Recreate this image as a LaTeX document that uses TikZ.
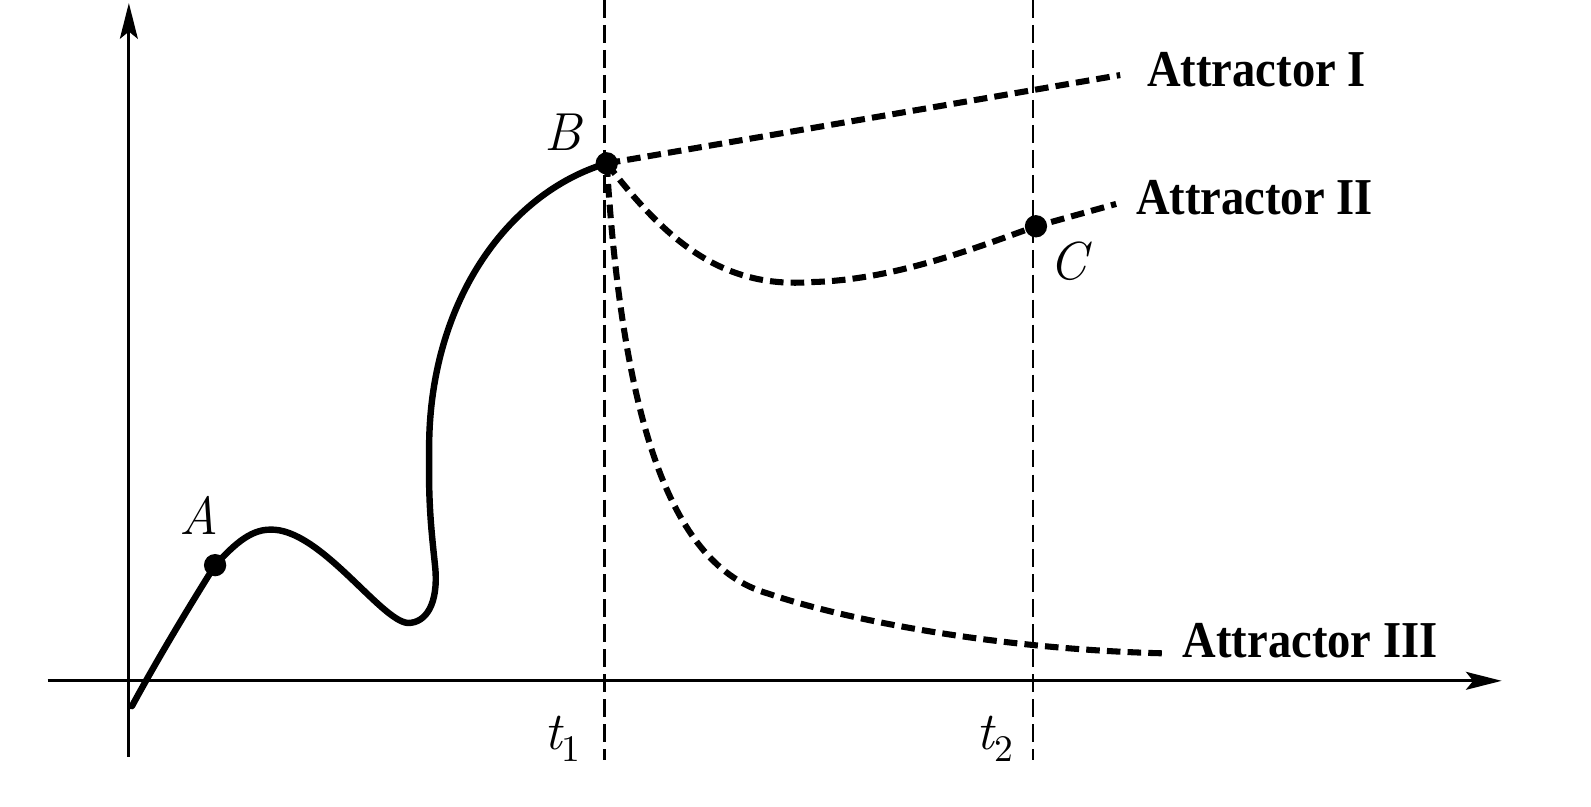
\documentclass[tikz,border=0pt]{standalone}
\usepackage{fontspec}
\newfontfamily\attrfont[FakeStretch=0.9]{Liberation Serif}
\usetikzlibrary{arrows.meta}
\newcommand{\subidx}[1]{\raisebox{-3.2pt}{\fontsize{10.5}{12}\selectfont\upshape #1}}
\begin{document}
\begin{tikzpicture}[x=0.01cm,y=-0.01cm,
  axis/.style={line width=0.9pt,-{Stealth[length=10pt,width=5pt,inset=2pt]}},
  guide/.style={line width=0.75pt,dash pattern=on 5pt off 2pt},
  traj/.style={line width=1.8pt,line join=round,line cap=round},
  attr/.style={line width=1.7pt,dash pattern=on 3.8pt off 2pt},
  lab/.style={font=\fontsize{15}{18}\selectfont\itshape,inner sep=0pt},
  attrtxt/.style={font=\attrfont\bfseries\fontsize{14.5}{17}\selectfont,inner sep=0pt}]
\useasboundingbox (0,0) rectangle (1568,795);
% key points
\coordinate (A) at (212,557);
\coordinate (B) at (598,161);
\coordinate (C) at (1021,223);
\coordinate (S) at (130,696);
\coordinate (Pk) at (266,522);
\coordinate (Mn) at (402,614);
\coordinate (R1) at (429,560);
\coordinate (R2) at (423,450);
% axes
\coordinate (ybot) at (127,746);
\coordinate (ytop) at (127,3);
\coordinate (xl) at (47,671);
\coordinate (xr) at (1480,671);
\draw[axis] (ybot) -- (ytop);
\draw[axis] (xl) -- (xr);
% guides
\coordinate (t1top) at (596,0);
\coordinate (t1bot) at (596,749);
\coordinate (t2top) at (1018,0);
\coordinate (t2bot) at (1018,749);
\draw[guide] (t1top) -- (t1bot);
\draw[guide] (t2top) -- (t2bot);
% trajectory
\draw[traj] (S) .. controls (155,650) and (185,600) .. (A)
  .. controls (228,540) and (245,522) .. (Pk)
  .. controls (315,520) and (375,612) .. (Mn)
  .. controls (420,614) and (432,595) .. (R1)
  .. controls (426,530) and (422,500) .. (R2)
  .. controls (420,300) and (500,190) .. (B);
% attractors
\coordinate (E1) at (1104,74);
\coordinate (E2) at (1100,201);
\coordinate (E3) at (1150,644);
\coordinate (M2) at (800,278);
\coordinate (P3) at (757,585);
\draw[attr] (B) -- (E1);
\draw[attr] (B) .. controls (655,235) and (710,285) .. (M2) .. controls (880,276) and (960,245) .. (C) -- (E2);
\draw[attr] (B) .. controls (615,440) and (670,560) .. (P3) .. controls (830,610) and (980,640) .. (E3);
% dots
\fill (A) circle[radius=11];
\fill (B) circle[radius=11];
\fill (C) circle[radius=11];
% labels
\node[lab,anchor=base] (LA) at (196,527) {A};
\node[lab,anchor=base] (LB) at (555,148) {B};
\node[lab,anchor=base] (LC) at (1053,275) {C};
\node[lab,anchor=base west] (Lt1) at (536,739) {t\subidx{1}};
\node[lab,anchor=base west] (Lt2) at (962,739) {t\subidx{2}};
\node[attrtxt,anchor=base west] (L1) at (1130,85) {Attractor I};
\node[attrtxt,anchor=base west] (L2) at (1119,211) {Attractor II};
\node[attrtxt,anchor=base west] (L3) at (1165,648) {Attractor III};
\end{tikzpicture}
\end{document}
